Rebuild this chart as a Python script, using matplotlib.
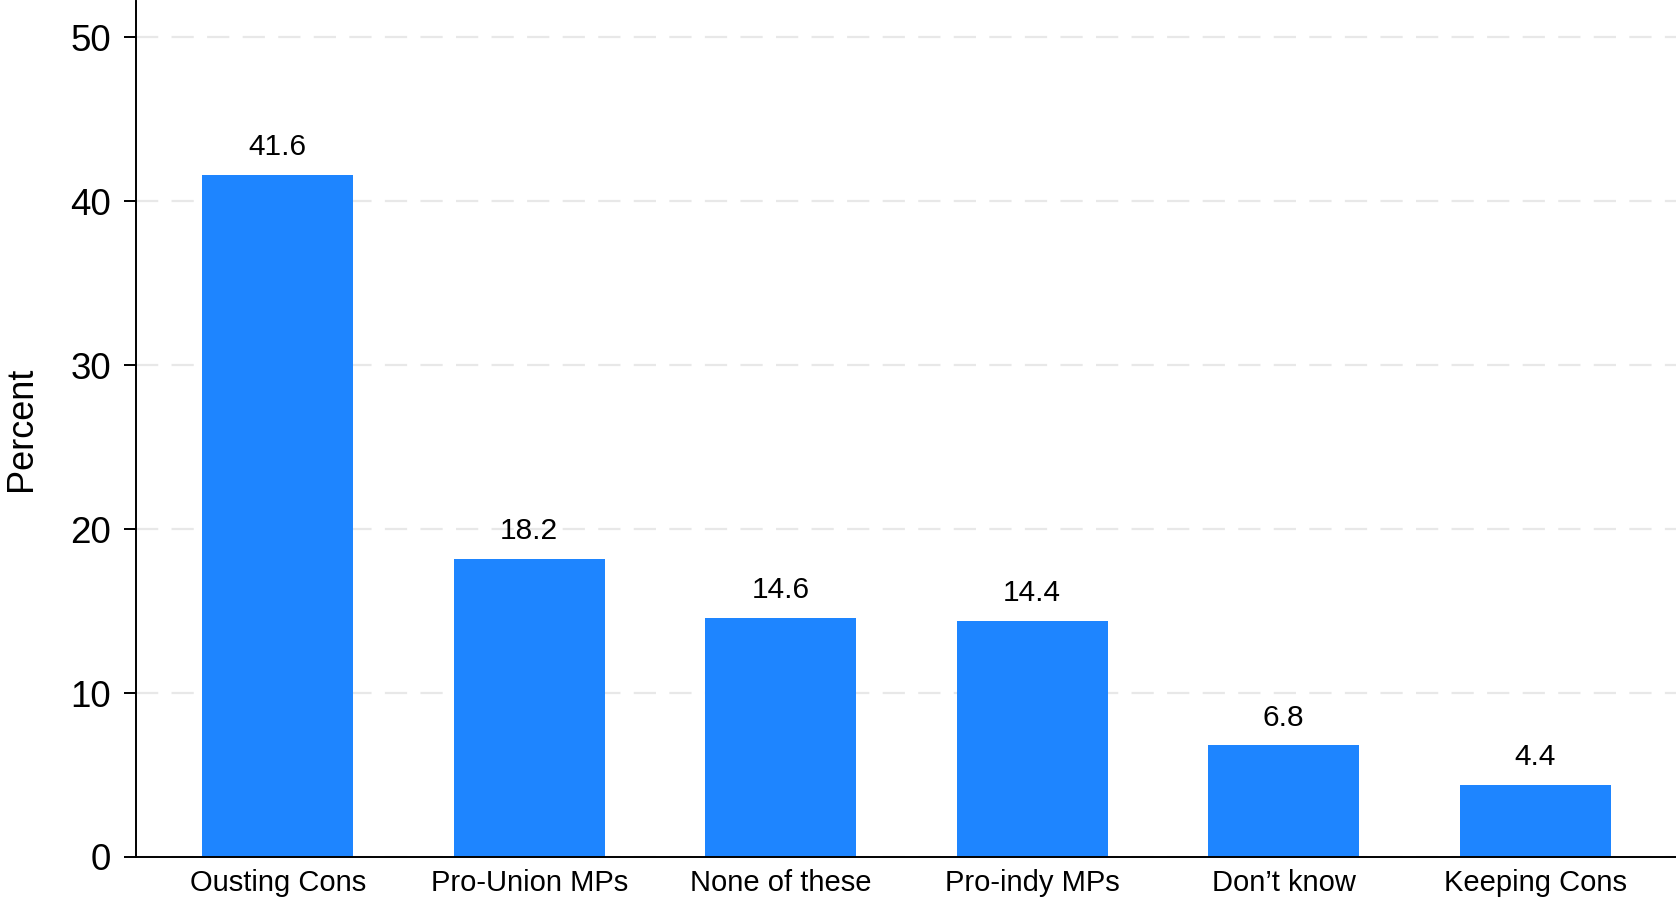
import matplotlib
matplotlib.use("Agg")
import matplotlib.pyplot as plt
import numpy as np

# data
categories = ["Ousting Cons", "Pro-Union MPs", "None of these",
              "Pro-indy MPs", "Don\u2019t know", "Keeping Cons"]
percent = [41.6, 18.2, 14.6, 14.4, 6.8, 4.4]
y_ticks = [0, 10, 20, 30, 40, 50]

plt.rcParams["font.family"] = ["Liberation Sans", "DejaVu Sans"]

fig = plt.figure(figsize=(16.76, 8.98), dpi=100)
ax = fig.add_axes([0.081, 0.0457, 0.919, 0.953])

x = np.arange(len(categories))
bars = ax.bar(x, percent, width=0.6, color="#1e85ff", zorder=2)

for rect, v in zip(bars, percent):
    ax.annotate(f"{v:.1f}", (rect.get_x() + rect.get_width() / 2, v),
                xytext=(0, 10), textcoords="offset points",
                ha="center", va="bottom", fontsize=21.5)

ax.set_xlim(-0.565, len(categories) - 1 + 0.56)
ax.set_ylim(0, 52.2)
ax.set_yticks(y_ticks)
ax.tick_params(axis="y", labelsize=26.5, length=9, width=1.4, pad=9)
ax.set_xticks(x)
ax.set_xticklabels(categories)
ax.tick_params(axis="x", labelsize=21, length=0, pad=9)

ax.yaxis.grid(True, linestyle=(0, (10, 6)), color="#e8e8e8", linewidth=1.6, zorder=0)
ax.set_axisbelow(True)

for side in ["top", "right"]:
    ax.spines[side].set_visible(False)
for side in ["left", "bottom"]:
    ax.spines[side].set_linewidth(1.4)

ax.set_ylabel("Percent", fontsize=26, labelpad=22)

fig.savefig("out.png", dpi=100)
